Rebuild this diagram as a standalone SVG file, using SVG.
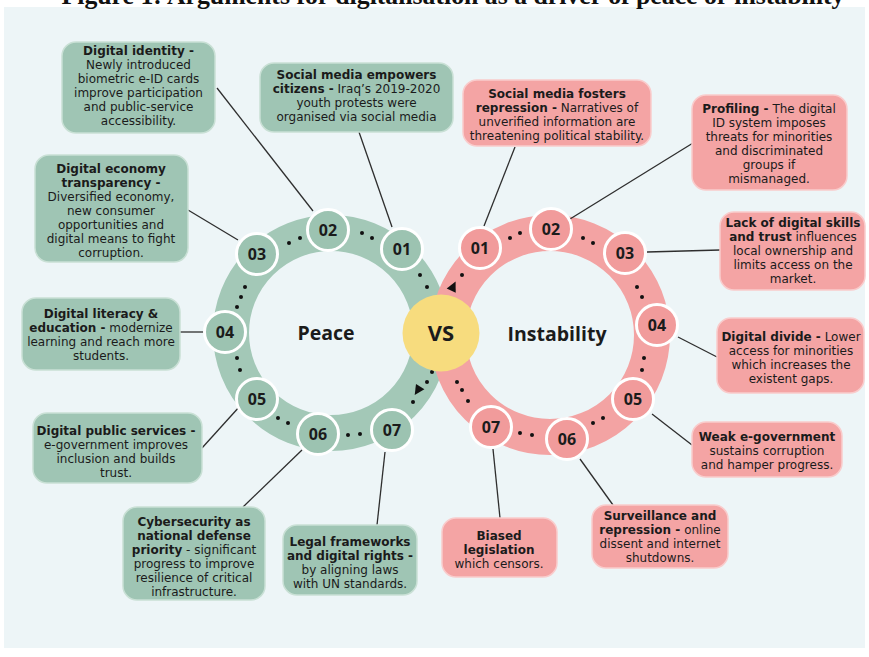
<svg xmlns="http://www.w3.org/2000/svg" width="869" height="657" viewBox="0 0 869 657">
<style>
.title{font-family:"Liberation Serif","Times New Roman",serif;font-weight:bold;font-size:26px;fill:#111}
.bx text{font-family:"DejaVu Sans","Open Sans",sans-serif;font-size:12px;fill:#1b1b1b;text-anchor:middle}
.b{font-weight:bold}
.g rect{fill:#9fc5b4;stroke:#c9e0d5;stroke-width:1.5}
.p rect{fill:#f4a4a4;stroke:#f9cccc;stroke-width:1.5}
.node text{font-family:"Open Sans","Liberation Sans",sans-serif;font-weight:bold;font-size:16px;fill:#1b1b1b;text-anchor:middle}
.ng circle{fill:#9cc3b1;stroke:#fff;stroke-width:3}
.np circle{fill:#f19b9b;stroke:#fff;stroke-width:3}
.lbl{font-family:"Open Sans","Liberation Sans",sans-serif;font-weight:bold;font-size:19.5px;fill:#1b1b1b;text-anchor:middle}
#connectors line{stroke:#2e2e2e;stroke-width:1.3}
.dot{fill:#111}
</style>
<rect x="0" y="0" width="869" height="657" fill="#fff"/>
<rect x="4" y="7" width="861" height="641" fill="#edf5f7"/>
<text class="title" x="453" y="4" text-anchor="middle" textLength="783" lengthAdjust="spacingAndGlyphs">Figure 1: Arguments for digitalisation as a driver of peace or instability</text>

<g id="ring-peace">
<circle cx="331" cy="333" r="100" fill="none" stroke="#a3c8b7" stroke-width="36"/>
<text class="lbl" x="326" y="340">Peace</text>
</g>
<g id="ring-instability">
<circle cx="550" cy="335" r="102" fill="none" stroke="#f3a3a3" stroke-width="36"/>
<text class="lbl" x="557" y="341">Instability</text>
</g>

<g id="connectors">
<line x1="217" y1="88" x2="313" y2="211"/>
<line x1="359" y1="132" x2="392" y2="227"/>
<line x1="188" y1="210" x2="238" y2="240"/>
<line x1="180" y1="332" x2="204" y2="332"/>
<line x1="202" y1="448" x2="240" y2="406"/>
<line x1="243" y1="507" x2="302" y2="450"/>
<line x1="377" y1="525" x2="385" y2="452"/>
<line x1="515" y1="147" x2="484" y2="226"/>
<line x1="570" y1="219" x2="693" y2="143"/>
<line x1="647" y1="252" x2="720" y2="250"/>
<line x1="678" y1="337" x2="717" y2="357"/>
<line x1="652" y1="414" x2="692" y2="445"/>
<line x1="580" y1="459" x2="613" y2="505"/>
<line x1="493" y1="449" x2="500" y2="518"/>
<g class="dot">
<circle cx="362" cy="233" r="2"/><circle cx="372" cy="238" r="2"/>
<circle cx="289" cy="243" r="2"/><circle cx="300" cy="238" r="2"/>
<circle cx="245" cy="287" r="2"/><circle cx="241" cy="297" r="2"/><circle cx="237" cy="307" r="2"/>
<circle cx="237" cy="358" r="2"/><circle cx="240" cy="370" r="2"/>
<circle cx="278" cy="418" r="2"/><circle cx="288" cy="423" r="2"/>
<circle cx="348" cy="435" r="2"/><circle cx="360" cy="434" r="2"/>
<circle cx="413" cy="402" r="2"/><circle cx="427" cy="382" r="2"/><circle cx="432" cy="372" r="2"/>
<circle cx="420" cy="275" r="2"/><circle cx="427" cy="287" r="2"/>
<circle cx="510" cy="238" r="2"/><circle cx="520" cy="233" r="2"/>
<circle cx="583" cy="238" r="2"/><circle cx="593" cy="243" r="2"/>
<circle cx="637" cy="287" r="2"/><circle cx="642" cy="297" r="2"/>
<circle cx="644" cy="358" r="2"/><circle cx="642" cy="370" r="2"/>
<circle cx="593" cy="423" r="2"/><circle cx="603" cy="418" r="2"/>
<circle cx="520" cy="433" r="2"/><circle cx="532" cy="435" r="2"/>
<circle cx="457" cy="382" r="2"/><circle cx="462" cy="390" r="2"/><circle cx="468" cy="401" r="2"/>
<circle cx="462" cy="275" r="2"/>
<polygon points="455.6,281.6 455.7,292.8 446.7,288.4"/>
<polygon points="414.7,395 424.4,389.3 416,383.9"/>
</g>
</g>

<g id="peace-01" class="node ng"><circle cx="402" cy="249" r="20.5"/><text x="402" y="255">01</text></g>
<g id="peace-02" class="node ng"><circle cx="328" cy="230" r="20.5"/><text x="328" y="236">02</text></g>
<g id="peace-03" class="node ng"><circle cx="257" cy="254" r="20.5"/><text x="257" y="260">03</text></g>
<g id="peace-04" class="node ng"><circle cx="225" cy="332" r="20.5"/><text x="225" y="338">04</text></g>
<g id="peace-05" class="node ng"><circle cx="257" cy="399" r="20.5"/><text x="257" y="405">05</text></g>
<g id="peace-06" class="node ng"><circle cx="318" cy="434" r="20.5"/><text x="318" y="440">06</text></g>
<g id="peace-07" class="node ng"><circle cx="392" cy="430" r="20.5"/><text x="392" y="436">07</text></g>

<g id="inst-01" class="node np"><circle cx="480" cy="248" r="20.5"/><text x="480" y="254">01</text></g>
<g id="inst-02" class="node np"><circle cx="551" cy="229" r="20.5"/><text x="551" y="235">02</text></g>
<g id="inst-03" class="node np"><circle cx="625" cy="253" r="20.5"/><text x="625" y="259">03</text></g>
<g id="inst-04" class="node np"><circle cx="657" cy="325" r="20.5"/><text x="657" y="331">04</text></g>
<g id="inst-05" class="node np"><circle cx="633" cy="399" r="20.5"/><text x="633" y="405">05</text></g>
<g id="inst-06" class="node np"><circle cx="567" cy="439" r="20.5"/><text x="567" y="445">06</text></g>
<g id="inst-07" class="node np"><circle cx="491" cy="427" r="20.5"/><text x="491" y="433">07</text></g>

<g id="vs"><circle cx="441" cy="333" r="38.5" fill="#f7dc7e"/><text class="lbl" x="441" y="341" style="font-size:22px">VS</text></g>

<g id="box-digital-identity" class="bx g"><rect x="62" y="42" width="153" height="91" rx="14"/>
<text x="138.5" y="55"><tspan class="b">Digital identity -</tspan><tspan x="138.5" dy="14">Newly introduced</tspan><tspan x="138.5" dy="14">biometric e-ID cards</tspan><tspan x="138.5" dy="14">improve participation</tspan><tspan x="138.5" dy="14">and public-service</tspan><tspan x="138.5" dy="14">accessibility.</tspan></text></g>

<g id="box-social-empowers" class="bx g"><rect x="260" y="63" width="193" height="69" rx="14"/>
<text x="356.5" y="78.5"><tspan class="b">Social media empowers</tspan><tspan x="356.5" dy="14"><tspan class="b">citizens -</tspan> Iraq’s 2019-2020</tspan><tspan x="356.5" dy="14">youth protests were</tspan><tspan x="356.5" dy="14">organised via social media</tspan></text></g>

<g id="box-social-fosters" class="bx p"><rect x="463" y="80" width="188" height="66" rx="14"/>
<text x="557" y="97.5"><tspan class="b">Social media fosters</tspan><tspan x="557" dy="14"><tspan class="b">repression -</tspan> Narratives of</tspan><tspan x="557" dy="14">unverified information are</tspan><tspan x="557" dy="14">threatening political stability.</tspan></text></g>

<g id="box-profiling" class="bx p"><rect x="692" y="95" width="155" height="95" rx="14"/>
<text x="769" y="113"><tspan class="b">Profiling -</tspan> The digital<tspan x="769" dy="14">ID system imposes</tspan><tspan x="769" dy="14">threats for minorities</tspan><tspan x="769" dy="14">and discriminated</tspan><tspan x="769" dy="14">groups if</tspan><tspan x="769" dy="14">mismanaged.</tspan></text></g>

<g id="box-digital-skills" class="bx p"><rect x="720" y="212" width="145" height="78" rx="14"/>
<text x="793" y="226.5"><tspan class="b">Lack of digital skills</tspan><tspan x="793" dy="14"><tspan class="b">and trust</tspan> influences</tspan><tspan x="793" dy="14">local ownership and</tspan><tspan x="793" dy="14">limits access on the</tspan><tspan x="793" dy="14">market.</tspan></text></g>

<g id="box-digital-divide" class="bx p"><rect x="717" y="318" width="147" height="75" rx="14"/>
<text x="791" y="341"><tspan class="b">Digital divide -</tspan> Lower<tspan x="791" dy="14">access for minorities</tspan><tspan x="791" dy="14">which increases the</tspan><tspan x="791" dy="14">existent gaps.</tspan></text></g>

<g id="box-weak-egov" class="bx p"><rect x="692" y="422" width="150" height="55" rx="14"/>
<text x="767" y="441"><tspan class="b">Weak e-government</tspan><tspan x="767" dy="14">sustains corruption</tspan><tspan x="767" dy="14">and hamper progress.</tspan></text></g>

<g id="box-surveillance" class="bx p"><rect x="592" y="505" width="136" height="63" rx="14"/>
<text x="660" y="519.5"><tspan class="b">Surveillance  and</tspan><tspan x="660" dy="14"><tspan class="b">repression -</tspan>  online</tspan><tspan x="660" dy="14">dissent and internet</tspan><tspan x="660" dy="14">shutdowns.</tspan></text></g>

<g id="box-biased" class="bx p"><rect x="442" y="518" width="115" height="59" rx="14"/>
<text x="499" y="539.5"><tspan class="b">Biased</tspan><tspan x="499" dy="14" class="b">legislation</tspan><tspan x="499" dy="14">which censors.</tspan></text></g>

<g id="box-digital-economy" class="bx g"><rect x="35" y="155" width="153" height="107" rx="14"/>
<text x="111" y="172.5"><tspan class="b">Digital economy</tspan><tspan x="111" dy="14" class="b">transparency -</tspan><tspan x="111" dy="14">Diversified economy,</tspan><tspan x="111" dy="14">new consumer</tspan><tspan x="111" dy="14">opportunities and</tspan><tspan x="111" dy="14">digital means to fight</tspan><tspan x="111" dy="14">corruption.</tspan></text></g>

<g id="box-digital-literacy" class="bx g"><rect x="22" y="298" width="158" height="72" rx="14"/>
<text x="101" y="318"><tspan class="b">Digital literacy &amp;</tspan><tspan x="101" dy="14"><tspan class="b">education -</tspan>  modernize</tspan><tspan x="101" dy="14">learning and reach more</tspan><tspan x="101" dy="14">students.</tspan></text></g>

<g id="box-public-services" class="bx g"><rect x="33" y="413" width="169" height="70" rx="14"/>
<text x="116" y="434.5"><tspan class="b">Digital public services  -</tspan><tspan x="116" dy="14">e-government improves</tspan><tspan x="116" dy="14">inclusion and builds</tspan><tspan x="116" dy="14">trust.</tspan></text></g>

<g id="box-cybersecurity" class="bx g"><rect x="123" y="507" width="142" height="93" rx="14"/>
<text x="194" y="525.5"><tspan class="b">Cybersecurity as</tspan><tspan x="194" dy="14" class="b">national defense</tspan><tspan x="194" dy="14"><tspan class="b">priority</tspan> - significant</tspan><tspan x="194" dy="14">progress to improve</tspan><tspan x="194" dy="14">resilience of critical</tspan><tspan x="194" dy="14">infrastructure.</tspan></text></g>

<g id="box-legal" class="bx g"><rect x="283" y="525" width="134" height="70" rx="14"/>
<text x="350" y="546"><tspan class="b">Legal frameworks</tspan><tspan x="350" dy="14" class="b">and digital rights -</tspan><tspan x="350" dy="14">by aligning laws</tspan><tspan x="350" dy="14">with UN standards.</tspan></text></g>
</svg>
